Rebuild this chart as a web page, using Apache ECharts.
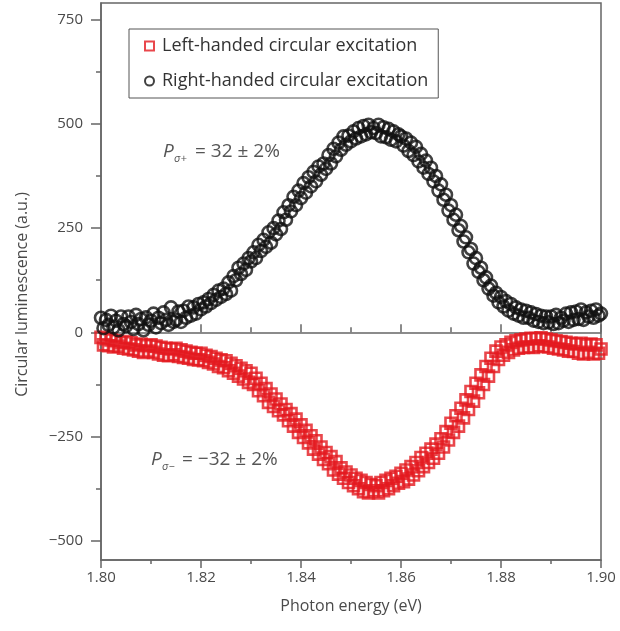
<!DOCTYPE html>
<html>
<head>
<meta charset="utf-8">
<script src="https://cdn.jsdelivr.net/npm/echarts@6/dist/echarts.min.js"></script>
<style>
html,body{margin:0;padding:0;background:#fff;}
#chart{width:620px;height:631px;}
</style>
</head>
<body>
<div id="chart"></div>
<script>
// Photon energy (eV) of each measured point
const photonEnergy = [
1.8000,1.8005,1.8010,1.8015,1.8020,1.8025,1.8030,1.8035,1.8040,1.8045,
1.8050,1.8055,1.8060,1.8065,1.8070,1.8075,1.8080,1.8085,1.8090,1.8095,
1.8100,1.8105,1.8110,1.8115,1.8120,1.8125,1.8130,1.8135,1.8140,1.8145,
1.8150,1.8155,1.8160,1.8165,1.8170,1.8175,1.8180,1.8185,1.8190,1.8195,
1.8200,1.8205,1.8210,1.8215,1.8220,1.8225,1.8230,1.8235,1.8240,1.8245,
1.8250,1.8255,1.8260,1.8265,1.8270,1.8275,1.8280,1.8285,1.8290,1.8295,
1.8300,1.8305,1.8310,1.8315,1.8320,1.8325,1.8330,1.8335,1.8340,1.8345,
1.8350,1.8355,1.8360,1.8365,1.8370,1.8375,1.8380,1.8385,1.8390,1.8395,
1.8400,1.8405,1.8410,1.8415,1.8420,1.8425,1.8430,1.8435,1.8440,1.8445,
1.8450,1.8455,1.8460,1.8465,1.8470,1.8475,1.8480,1.8485,1.8490,1.8495,
1.8500,1.8505,1.8510,1.8515,1.8520,1.8525,1.8530,1.8535,1.8540,1.8545,
1.8550,1.8555,1.8560,1.8565,1.8570,1.8575,1.8580,1.8585,1.8590,1.8595,
1.8600,1.8605,1.8610,1.8615,1.8620,1.8625,1.8630,1.8635,1.8640,1.8645,
1.8650,1.8655,1.8660,1.8665,1.8670,1.8675,1.8680,1.8685,1.8690,1.8695,
1.8700,1.8705,1.8710,1.8715,1.8720,1.8725,1.8730,1.8735,1.8740,1.8745,
1.8750,1.8755,1.8760,1.8765,1.8770,1.8775,1.8780,1.8785,1.8790,1.8795,
1.8800,1.8805,1.8810,1.8815,1.8820,1.8825,1.8830,1.8835,1.8840,1.8845,
1.8850,1.8855,1.8860,1.8865,1.8870,1.8875,1.8880,1.8885,1.8890,1.8895,
1.8900,1.8905,1.8910,1.8915,1.8920,1.8925,1.8930,1.8935,1.8940,1.8945,
1.8950,1.8955,1.8960,1.8965,1.8970,1.8975,1.8980,1.8985,1.8990,1.8995,
1.9000
];

// Left-handed circular excitation (red squares), a.u.
const leftHanded = [
-12,-30,-15,-32,-18,-35,-20,-33,-25,-38,
-22,-40,-25,-42,-30,-45,-28,-48,-32,-45,
-30,-48,-33,-52,-36,-55,-38,-56,-40,-54,
-38,-58,-42,-60,-45,-62,-48,-65,-50,-66,
-50,-68,-55,-72,-58,-76,-62,-82,-66,-85,
-68,-92,-74,-98,-80,-105,-86,-112,-92,-120,
-98,-125,-110,-140,-122,-152,-135,-168,-148,-178,
-160,-188,-172,-198,-185,-212,-195,-225,-208,-240,
-222,-252,-235,-265,-248,-280,-260,-292,-275,-305,
-288,-315,-298,-330,-310,-340,-325,-350,-335,-360,
-342,-368,-350,-375,-355,-382,-360,-385,-365,-380,
-368,-385,-360,-380,-355,-375,-350,-368,-345,-362,
-338,-358,-330,-352,-322,-342,-312,-332,-300,-322,
-290,-312,-280,-302,-268,-290,-255,-275,-238,-258,
-218,-240,-200,-225,-182,-205,-162,-185,-142,-165,
-122,-145,-102,-125,-82,-105,-62,-82,-45,-65,
-35,-55,-30,-48,-24,-42,-20,-38,-18,-36,
-16,-35,-14,-36,-15,-32,-13,-34,-16,-35,
-18,-38,-20,-40,-22,-42,-24,-45,-26,-46,
-28,-50,-26,-52,-30,-48,-28,-52,-30,-50,
-40
];

// Right-handed circular excitation (black circles), a.u.
const rightHanded = [
35,10,30,18,40,12,28,5,38,20,
15,38,25,8,42,20,32,5,36,18,
28,45,12,35,22,48,30,18,60,25,
30,50,25,52,35,62,40,60,45,68,
55,72,62,80,70,90,78,100,85,105,
92,120,100,135,125,155,140,165,150,178,
170,192,178,210,195,222,205,240,215,250,
235,268,248,288,270,305,290,325,305,340,
322,358,335,372,350,385,362,398,378,405,
392,425,405,440,422,455,438,470,450,472,
458,482,465,490,470,495,475,498,480,490,
478,498,470,492,468,488,462,482,458,475,
470,448,465,435,455,425,445,410,428,395,
412,380,395,362,375,340,355,318,330,292,
305,270,282,245,255,218,228,192,200,165,
178,145,155,125,132,105,112,88,95,72,
85,62,75,52,68,45,60,40,55,35,
52,35,48,28,44,25,40,22,38,24,
38,20,42,22,35,28,45,25,48,30,
50,32,55,30,48,38,52,35,55,40,
45
];

const seriesNames = ['Left-handed circular excitation', 'Right-handed circular excitation'];
const yMajorTicks = [-500, -250, 0, 250, 500, 750];
const yMinorTicks = [-375, -125, 125, 375, 625];

const RED = '#e3191f';
const BLACK = '#111111';
const AXIS = '#666666';
const TEXT = '#4a4a4a';
const FONT = 'Open Sans';

const pairs = (xs, ys) => xs.map((x, i) => [x, ys[i]]);

const chart = echarts.init(document.getElementById('chart'), null, {renderer: 'canvas'});

const yBase = {
  type: 'value', min: -546, max: 790,
  splitLine: {show: false}
};

chart.setOption({
  animation: false,
  backgroundColor: '#ffffff',
  grid: {
    left: 101, right: 19, top: 3, bottom: 71,
    show: true, borderColor: AXIS, borderWidth: 1.5, backgroundColor: 'transparent'
  },
  legend: {
    orient: 'vertical', left: 129, top: 29,
    padding: [6, 10, 6, 15],
    itemGap: 13, itemWidth: 9, itemHeight: 9,
    borderColor: '#555', borderWidth: 1,
    textStyle: {fontFamily: FONT, fontSize: 18, color: '#333', lineHeight: 22, padding: [0, 0, 0, 3]},
    data: [
      {name: seriesNames[0], icon: 'rect', itemStyle: {color: 'transparent', borderColor: RED, borderWidth: 2}},
      {name: seriesNames[1], icon: 'circle', itemStyle: {color: 'transparent', borderColor: BLACK, borderWidth: 2}}
    ]
  },
  xAxis: [
    {
      type: 'value', min: 1.80, max: 1.90, interval: 0.02, position: 'bottom',
      name: 'Photon energy (eV)', nameLocation: 'middle', nameGap: 38,
      nameTextStyle: {fontFamily: FONT, fontSize: 16, color: TEXT},
      axisLine: {onZero: false, lineStyle: {color: AXIS, width: 1.5}},
      axisTick: {show: true, length: 8, lineStyle: {color: AXIS, width: 1.5}},
      minorTick: {show: true, splitNumber: 2, length: 4, lineStyle: {color: AXIS, width: 1.5}},
      axisLabel: {fontFamily: FONT, fontSize: 15, color: TEXT, margin: 10,
        formatter: v => v.toFixed(2)},
      splitLine: {show: false}
    },
    {
      type: 'value', min: 1.80, max: 1.90, interval: 0.02, position: 'top',
      axisLine: {show: true, onZero: true, onZeroAxisIndex: 0, lineStyle: {color: AXIS, width: 1.5}},
      axisTick: {show: true, length: 8, lineStyle: {color: AXIS, width: 1.5}},
      minorTick: {show: true, splitNumber: 2, length: 5, lineStyle: {color: AXIS, width: 1.5}},
      axisLabel: {show: false},
      splitLine: {show: false}
    }
  ],
  yAxis: [
    Object.assign({}, yBase, {
      position: 'left',
      name: 'Circular luminescence (a.u.)', nameLocation: 'middle', nameGap: 71,
      nameTextStyle: {fontFamily: FONT, fontSize: 16, color: TEXT, padding: [0, 0, 0, -26]},
      axisLine: {show: true, onZero: false, lineStyle: {color: AXIS, width: 1.5}},
      axisTick: {show: true, length: 10, customValues: yMajorTicks, lineStyle: {color: AXIS, width: 1.5}},
      axisLabel: {fontFamily: FONT, fontSize: 15, color: TEXT, margin: 18,
        customValues: yMajorTicks,
        formatter: v => String(v).replace('-', '\u2212')}
    }),
    Object.assign({}, yBase, {
      position: 'right', offset: -500,
      axisLine: {show: false, onZero: false},
      axisTick: {show: true, inside: true, length: 5, customValues: yMinorTicks, lineStyle: {color: AXIS, width: 1.5}},
      axisLabel: {show: false}
    })
  ],
  series: [
    {
      name: seriesNames[0], type: 'scatter', xAxisIndex: 0, yAxisIndex: 0,
      symbol: 'rect', symbolSize: 11,
      itemStyle: {color: 'transparent', borderColor: RED, borderWidth: 2.6},
      data: pairs(photonEnergy, leftHanded)
    },
    {
      name: seriesNames[1], type: 'scatter', xAxisIndex: 0, yAxisIndex: 0,
      symbol: 'circle', symbolSize: 12,
      itemStyle: {color: 'transparent', borderColor: BLACK, borderWidth: 2.6},
      data: pairs(photonEnergy, rightHanded)
    }
  ],
  graphic: [
    {type: 'text', x: 163, y: 152, style: {text: 'P', fill: '#555', font: 'italic 19px "Open Sans"', verticalAlign: 'middle'}},
    {type: 'text', x: 174, y: 159, style: {text: 'σ+', fill: '#555', font: 'italic 11px "Open Sans"', verticalAlign: 'middle'}},
    {type: 'text', x: 195, y: 152, style: {text: '= 32 ± 2%', fill: '#555', font: '19px "Open Sans"', verticalAlign: 'middle'}},
    {type: 'text', x: 151, y: 460, style: {text: 'P', fill: '#555', font: 'italic 19px "Open Sans"', verticalAlign: 'middle'}},
    {type: 'text', x: 162, y: 467, style: {text: 'σ−', fill: '#555', font: 'italic 11px "Open Sans"', verticalAlign: 'middle'}},
    {type: 'text', x: 182, y: 460, style: {text: '= \u221232 ± 2%', fill: '#555', font: '19px "Open Sans"', verticalAlign: 'middle'}}
  ]
});
</script>
</body>
</html>
